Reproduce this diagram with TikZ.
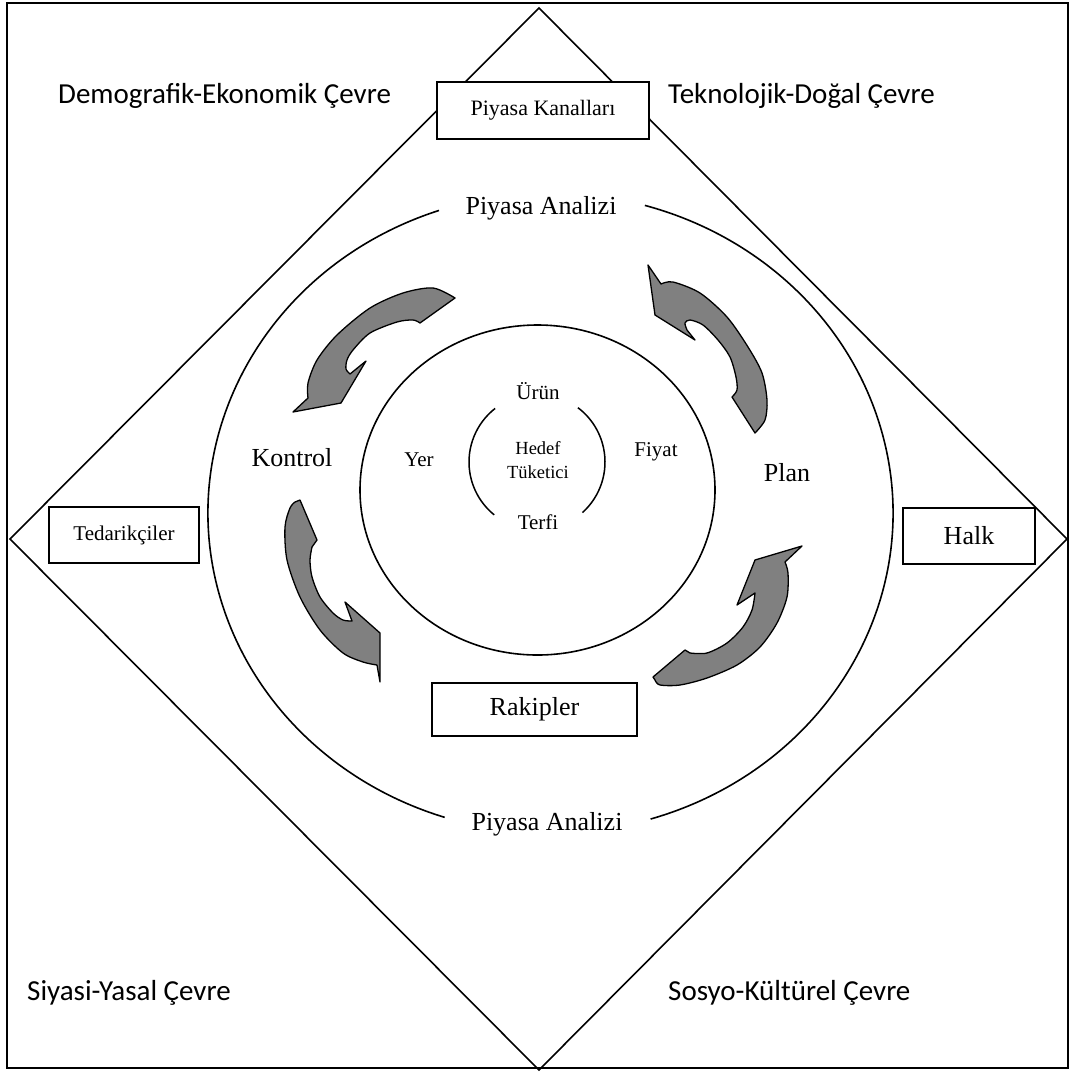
\documentclass[tikz,border=0pt]{standalone}
\usepackage{fontspec}
\setmainfont{Liberation Serif}
\newfontfamily\envfont{Carlito}
\definecolor{arrowgray}{RGB}{128,128,128}
\begin{document}
\begin{tikzpicture}[x=1pt,y=-1pt,
  outline/.style={line width=1.6pt},
  boxnode/.style={draw,line width=1.9pt,fill=white,inner sep=0pt},
  cyclearrow/.style={fill=arrowgray,draw=black,line width=1.3pt,line join=round},
  envlabel/.style={font=\envfont\fontsize{29}{34}\selectfont,anchor=west,inner sep=0pt},
  biglabel/.style={font=\fontsize{26}{30}\selectfont,inner sep=0pt},
  mixlabel/.style={font=\fontsize{21}{24}\selectfont,inner sep=0pt},
  corelabel/.style={font=\fontsize{18.5}{24}\selectfont,inner sep=0pt,align=center}]

\useasboundingbox (0,0) rectangle (1070,1072);
\begin{scope}
\clip (0,0) rectangle (1070,1072);
% outer frame and the environment diamond
\draw[outline] (7,3) rectangle (1068,1068);
\draw[outline] (539,8) -- (1067,539) -- (539,1070) -- (10,539) -- cycle;
\end{scope}

% market analysis ring, open at top and bottom for its labels
\draw[outline] (550.5,513) ++(109:342.5pt and 320pt)
  arc[start angle=109, end angle=252, x radius=342.5pt, y radius=320pt];
\draw[outline] (550.5,513) ++(-73:342.5pt and 320pt)
  arc[start angle=-73, end angle=74, x radius=342.5pt, y radius=320pt];

% marketing mix ring
\draw[outline] (537.5,490) ellipse[x radius=177.5pt, y radius=165pt];

% brackets around the target consumer
\draw[line width=1.5pt] (537,462) ++(128:68pt) arc[start angle=128, end angle=231, radius=68pt];
\draw[line width=1.5pt] (537,462) ++(-48:68pt) arc[start angle=-48, end angle=53, radius=68pt];

% environment labels
\node[envlabel] (demo)  at (58,96)  {Demografik-Ekonomik Çevre};
\node[envlabel] (tekno) at (668,96) {Teknolojik-Doğal Çevre};
\node[envlabel] (siyasi) at (27,993) {Siyasi-Yasal Çevre};
\node[envlabel] (sosyo) at (668,993) {Sosyo-Kültürel Çevre};

% actors
\node[boxnode,minimum width=212pt,minimum height=57pt,font=\fontsize{22}{26}\selectfont] (kanal) at (543,110.5) {Piyasa Kanalları};
\node[boxnode,minimum width=150pt,minimum height=56pt,font=\fontsize{21}{24}\selectfont] (tedarik) at (124,535) {Tedarikçiler};
\node[boxnode,minimum width=132pt,minimum height=56pt,font=\fontsize{26}{30}\selectfont] (halk) at (969,536) {Halk};
\node[boxnode,minimum width=205pt,minimum height=53pt,font=\fontsize{26}{30}\selectfont] (rakip) at (534.5,709.5) {Rakipler};

% ring labels
\node[biglabel] (analizust) at (541,208) {Piyasa Analizi};
\node[biglabel] (analizalt) at (547,824) {Piyasa Analizi};
\node[biglabel] (kontrol) at (292,458) {Kontrol};
\node[biglabel] (plan) at (787,473) {Plan};

% marketing mix labels
\node[mixlabel] (urun) at (538,391) {Ürün};
\node[mixlabel] (fiyat) at (656,452) {Fiyat};
\node[mixlabel] (yer) at (419,460) {Yer};
\node[mixlabel] (terfi) at (538,522) {Terfi};
\node[corelabel] (hedef) at (538,460) {Hedef\\Tüketici};

% cycle arrows
\filldraw[cyclearrow] (455,298)
  -- plot[smooth] coordinates {(455,298) (433,288) (403,293) (370,308) (337,335) (317,360) (308,383) (308,398)}
  -- (293,412) -- (341,403) -- (366,361) -- (350,374)
  -- plot[smooth] coordinates {(350,374) (346,369) (347,360) (353,350) (370,333) (397,322) (413,320) (420,323)}
  -- cycle;

\filldraw[cyclearrow] (648,265) -- (661,284)
  -- plot[smooth] coordinates {(661,284) (673,282) (700,293) (727,317) (748,347) (762,373) (767,400) (765,420) (755,433)}
  -- (732,397)
  -- plot[smooth] coordinates {(732,397) (737,390) (736,377) (730,357) (718,340) (703,325) (690,320) (685,323) (687,330)}
  -- (695,340) -- (655,315) -- cycle;

\filldraw[cyclearrow] (300,500) -- (317,540) -- (312,547)
  -- plot[smooth] coordinates {(312,547) (310,560) (312,577) (320,597) (333,613) (343,620) (352,621)}
  -- (345,602) -- (380,633) -- (380,682) -- (377,665)
  -- plot[smooth] coordinates {(377,665) (363,662) (343,653) (320,630) (300,597) (287,560) (285,527) (290,508) (295,502)}
  -- cycle;

\filldraw[cyclearrow] (653,677) -- (685,650) -- (690,653)
  -- plot[smooth] coordinates {(690,653) (707,653) (727,643) (743,627) (752,610) (755,593)}
  -- (737,605) -- (755,560) -- (802,546) -- (785,562)
  -- plot[smooth] coordinates {(785,562) (788,573) (787,597) (777,623) (760,647) (737,665) (707,678) (680,685) (660,685) (655,680)}
  -- cycle;
\end{tikzpicture}
\end{document}
